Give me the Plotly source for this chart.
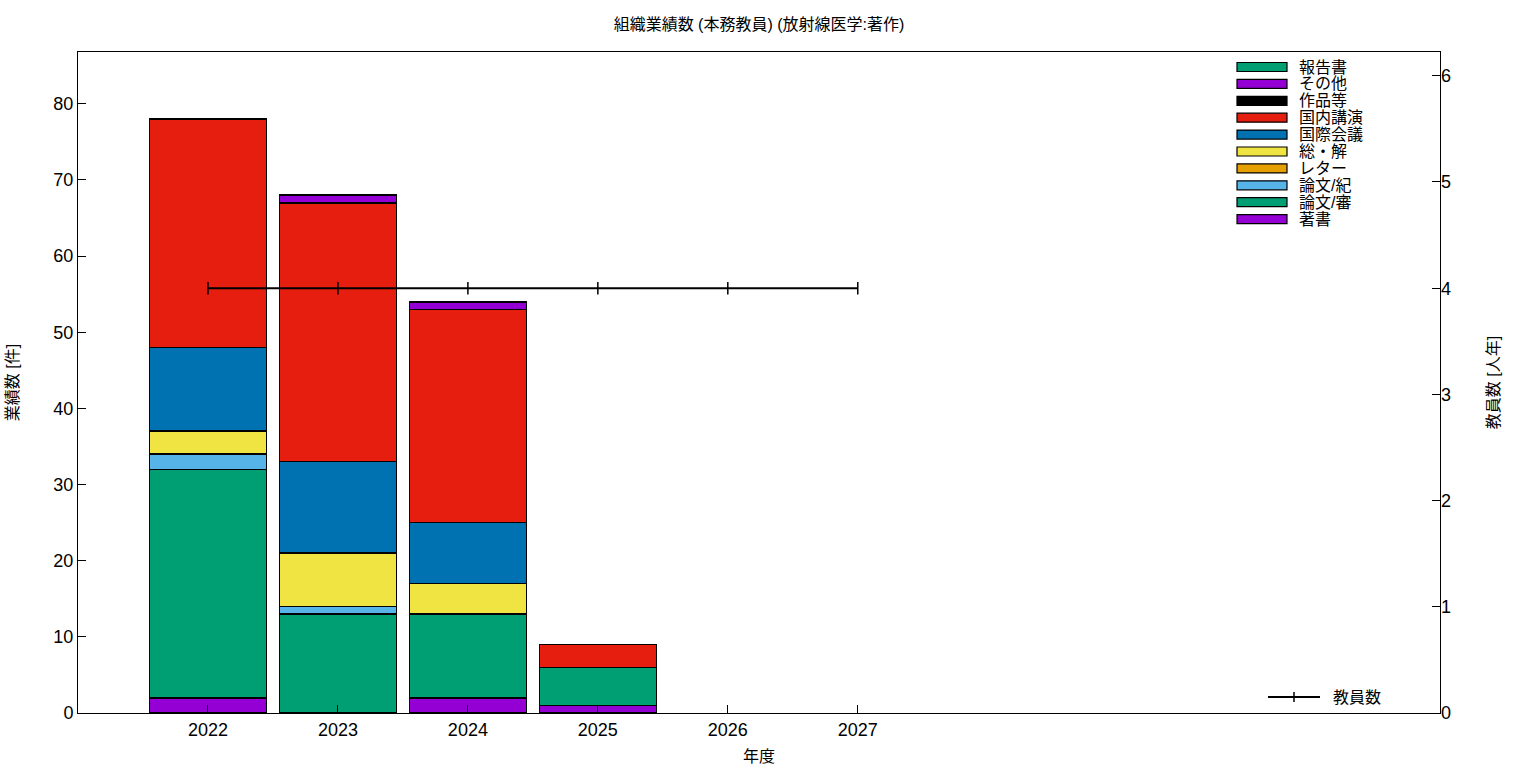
import plotly.graph_objects as go

years = [2022, 2023, 2024, 2025, 2026, 2027]
series_names = ["著書", "論文/審", "論文/紀", "レター", "総・解", "国際会議", "国内講演", "作品等", "その他", "報告書"]
series_colors = ["#9400D3", "#009E73", "#56B4E9", "#E69F00", "#F0E442", "#0072B2", "#E51E10", "#000000", "#9400D3", "#009E73"]
chosho   = [2, 0, 2, 1, 0, 0]
ronbun_s = [30, 13, 11, 5, 0, 0]
ronbun_k = [2, 1, 0, 0, 0, 0]
letter   = [0, 0, 0, 0, 0, 0]
sokai    = [3, 7, 4, 0, 0, 0]
kokusai  = [11, 12, 8, 0, 0, 0]
kokunai  = [30, 34, 28, 3, 0, 0]
sakuhin  = [0, 0, 0, 0, 0, 0]
sonota   = [0, 1, 1, 0, 0, 0]
hokoku   = [0, 0, 0, 0, 0, 0]
series_values = [chosho, ronbun_s, ronbun_k, letter, sokai, kokusai, kokunai, sakuhin, sonota, hokoku]
staff = [4, 4, 4, 4, 4, 4]

FONT = "Liberation Sans, Noto Sans CJK JP, sans-serif"

fig = go.Figure()
for name, color, vals in zip(series_names, series_colors, series_values):
    fig.add_trace(go.Bar(
        x=years, y=[v if v else None for v in vals], name=name, width=0.9,
        marker=dict(color=color, line=dict(color="black", width=1.5)),
        showlegend=False,
    ))

fig.add_trace(go.Scatter(
    x=years, y=staff, yaxis="y2", mode="lines+markers", name="教員数",
    line=dict(color="black", width=2),
    marker=dict(symbol="line-ns", size=9, line=dict(color="black", width=1.5)),
    showlegend=False,
))

# manual gnuplot-style key (top right, reversed order)
shapes = []
annotations = []
x0, x1 = 1237, 1287
ytop = 67
dy = 16.9
W, H = 1536, 768
l, r, t, b = 78, 96, 52, 55
pw, ph = W - l - r, H - t - b
def px(x): return (x - l) / pw
def py(y): return 1 - (y - t) / ph
for i, (name, color) in enumerate(reversed(list(zip(series_names, series_colors)))):
    yc = ytop + i * dy
    shapes.append(dict(type="rect", xref="paper", yref="paper",
                       x0=px(x0), x1=px(x1), y0=py(yc - 4.5), y1=py(yc + 4.5),
                       fillcolor=color, line=dict(color="black", width=1.2)))
    annotations.append(dict(xref="paper", yref="paper", x=px(1297), y=py(yc),
                            text=name, showarrow=False, xanchor="left", yanchor="middle",
                            font=dict(family=FONT, size=16, color="black")))
# line key
shapes.append(dict(type="line", xref="paper", yref="paper", x0=px(1268), x1=px(1320),
                   y0=py(697), y1=py(697), line=dict(color="black", width=2)))
shapes.append(dict(type="line", xref="paper", yref="paper", x0=px(1294), x1=px(1294),
                   y0=py(692), y1=py(702), line=dict(color="black", width=1.5)))
annotations.append(dict(xref="paper", yref="paper", x=px(1331), y=py(697), text="教員数",
                        showarrow=False, xanchor="left", yanchor="middle",
                        font=dict(family=FONT, size=16, color="black")))

fig.update_layout(
    width=W, height=H,
    margin=dict(l=l, r=r, t=t, b=b, autoexpand=False),
    barmode="stack",
    plot_bgcolor="white", paper_bgcolor="white",
    font=dict(family=FONT, size=18, color="black"),
    title=dict(text="組織業績数 (本務教員) (放射線医学:著作)", x=0.5, xref="paper", y=0.968,
               yanchor="middle", font=dict(size=16)),
    xaxis=dict(range=[2021.0, 2031.48], tickvals=years, ticktext=[str(y) for y in years],
               ticks="inside", ticklen=8, tickwidth=1, tickcolor="black",
               showline=True, linecolor="black", linewidth=1, mirror=True,
               showgrid=False, zeroline=False, automargin=False,
               title=dict(text="年度", font=dict(size=16), standoff=12)),
    yaxis=dict(range=[0, 86.8], tickvals=list(range(0, 90, 10)),
               ticks="inside", ticklen=8, tickcolor="black",
               showline=True, linecolor="black", linewidth=1, mirror=True,
               showgrid=False, zeroline=False, automargin=False,
               title=dict(text="業績数 [件]", font=dict(size=16), standoff=30)),
    yaxis2=dict(range=[0, 6.224], overlaying="y", side="right", tickvals=list(range(0, 7)),
                ticks="inside", ticklen=8, tickcolor="black",
                showline=False, showgrid=False, zeroline=False, automargin=False,
                title=dict(text="教員数 [人年]", font=dict(size=16), standoff=37)),
    shapes=shapes, annotations=annotations,
)

fig.write_html("out.html", config={"displayModeBar": False},
               post_script="document.body.style.margin='0px';")
